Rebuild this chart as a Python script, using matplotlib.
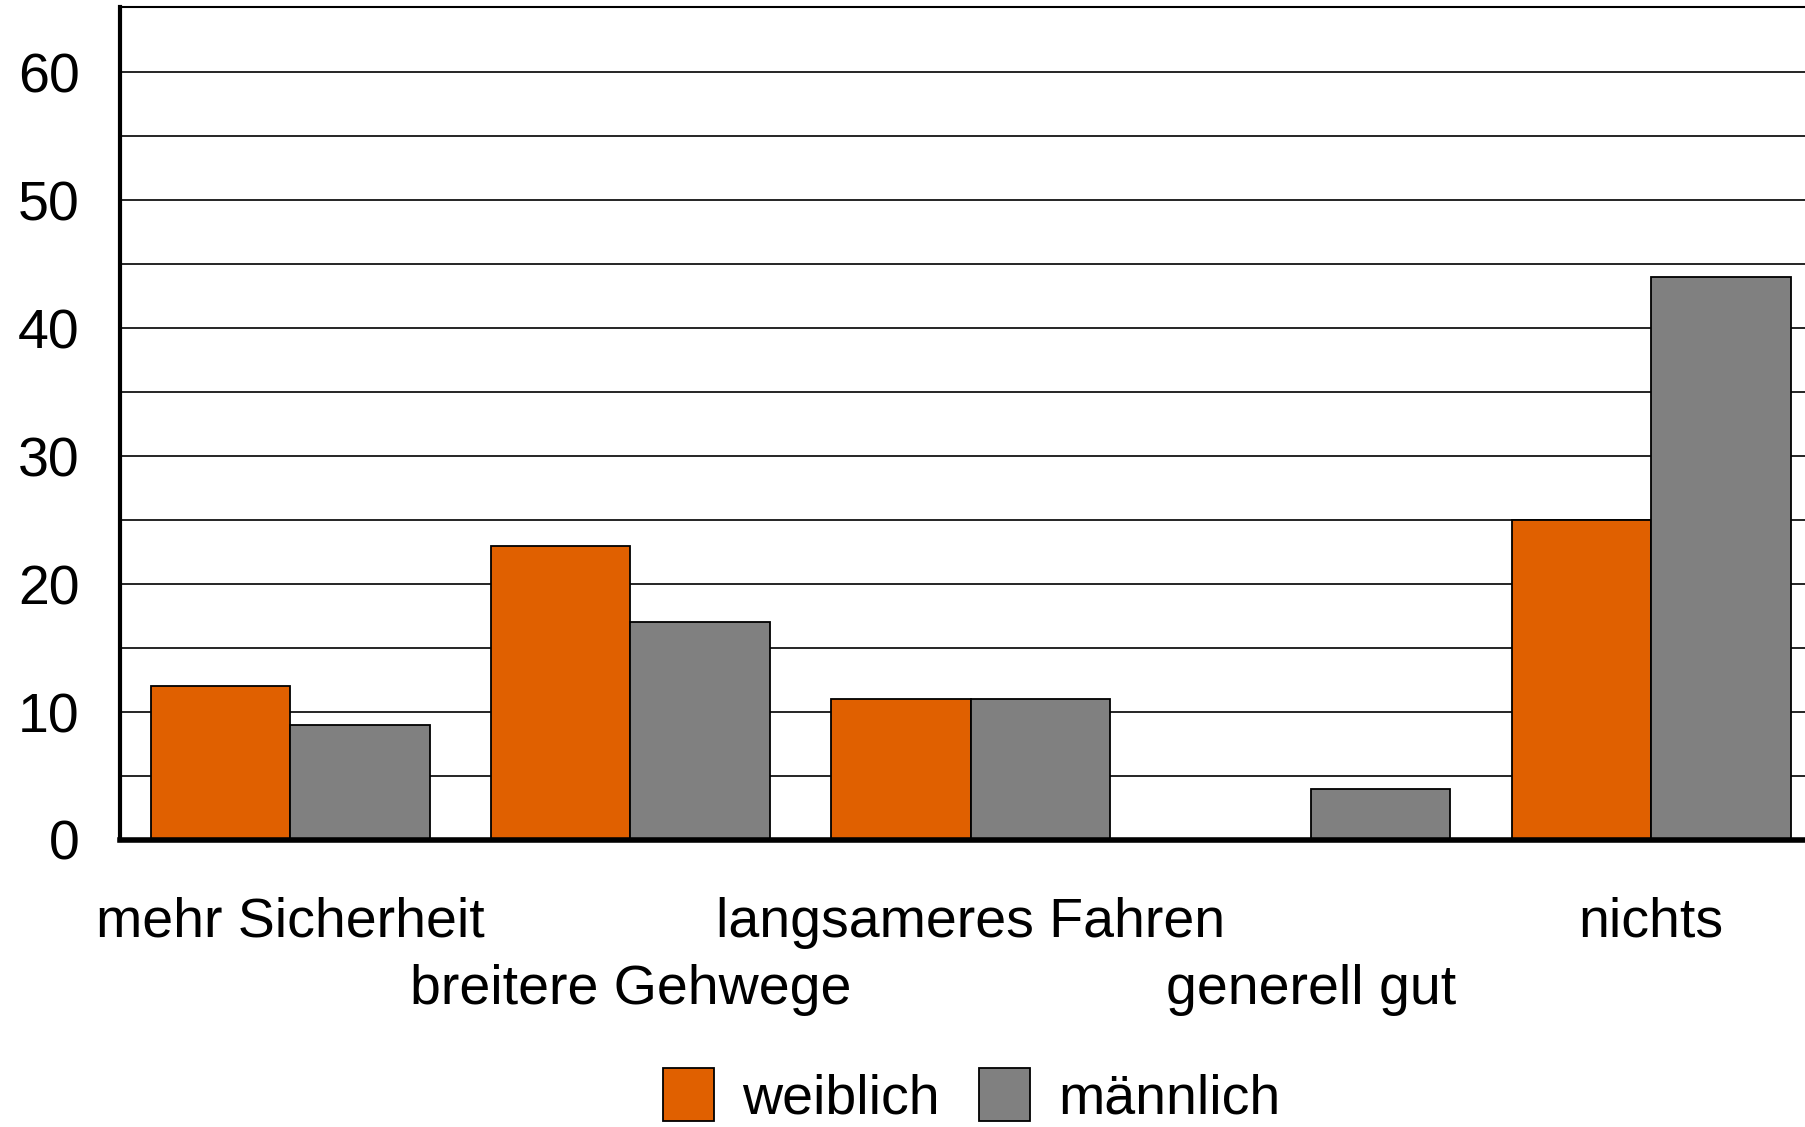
import numpy as np
import matplotlib.pyplot as plt
from matplotlib.patches import Patch

plt.rcParams['font.family'] = ['Liberation Sans', 'DejaVu Sans']

# data
categories = ['mehr Sicherheit', 'breitere Gehwege', 'langsameres Fahren', 'generell gut', 'nichts']
weiblich = [12, 23, 11, 0, 25]
maennlich = [9, 17, 11, 4, 44]

orange = '#E06000'
grey = '#808080'

fig = plt.figure(figsize=(18.06, 11.27), dpi=100)
ax = fig.add_axes([0.0664, 0.2547, 0.942, 0.7391])

x = np.arange(len(categories))
w = 0.41
ax.bar(x - w / 2, weiblich, w, color=orange, edgecolor='black', linewidth=1.3, zorder=3)
ax.bar(x + w / 2, maennlich, w, color=grey, edgecolor='black', linewidth=1.3, zorder=3)

ax.set_xlim(-0.5, len(categories) - 0.5)
ax.set_ylim(0, 65.1)

# y axis
ax.set_yticks(range(0, 61, 10))
ax.set_yticks(range(5, 61, 10), minor=True)
ax.tick_params(axis='y', which='both', length=0, labelsize=40, pad=29)
ax.grid(axis='y', which='both', color='black', linewidth=1.2, zorder=0)

# x labels, staggered on two rows (major = upper row, minor = lower row)
ax.set_xticks(x[::2], categories[::2])
ax.set_xticks(x[1::2], categories[1::2], minor=True)
ax.tick_params(axis='x', which='both', length=0, labelsize=40)
ax.tick_params(axis='x', which='major', pad=41)
ax.tick_params(axis='x', which='minor', pad=89)

ax.spines['left'].set_linewidth(3)
ax.spines['bottom'].set_linewidth(4)
ax.spines['top'].set_linewidth(1.5)
ax.spines['right'].set_visible(False)
for s in ax.spines.values():
    s.set_zorder(4)

handles = [Patch(facecolor=orange, edgecolor='black', linewidth=1.3),
           Patch(facecolor=grey, edgecolor='black', linewidth=1.3)]
fig.legend(handles, ['weiblich', 'männlich'], loc='center', bbox_to_anchor=(0.538, 0.027),
           ncol=2, frameon=False, fontsize=40, handlelength=0.93, handleheight=1.1,
           handletextpad=0.5, columnspacing=0.7)

fig.savefig('out.png', dpi=100)
